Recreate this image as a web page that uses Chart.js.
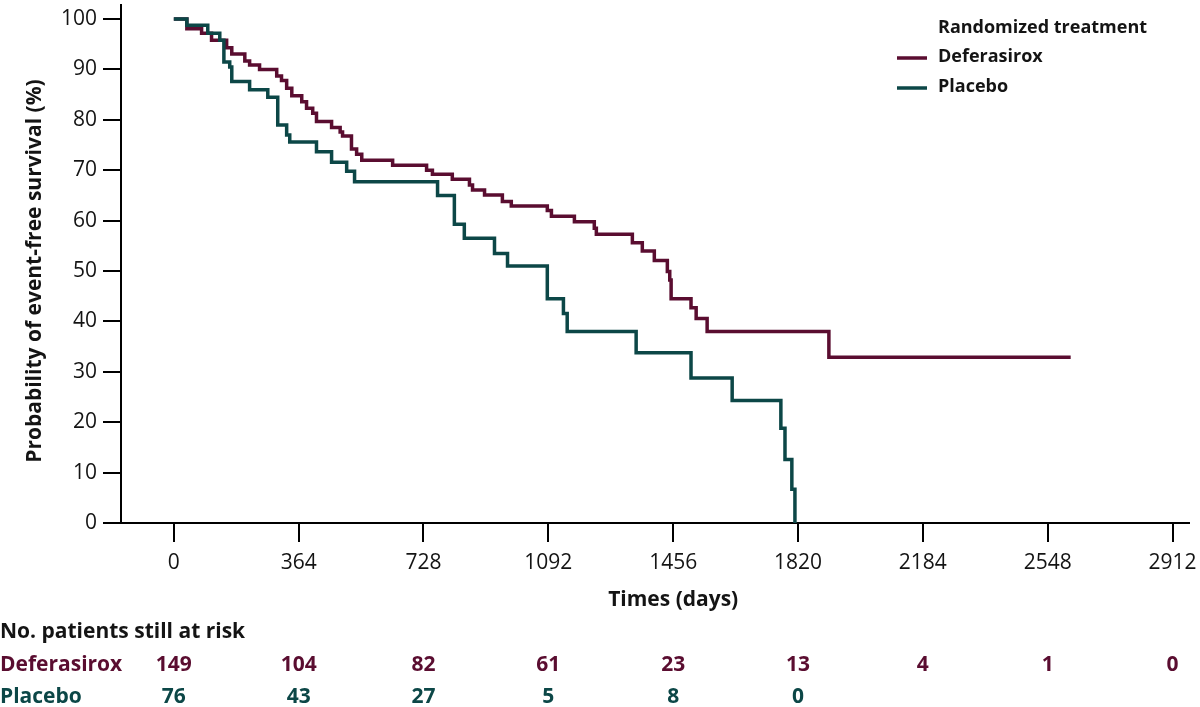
<!DOCTYPE html>
<html>
<head>
<meta charset="utf-8">
<script src="https://cdn.jsdelivr.net/npm/chart.js@4.4.1/dist/chart.umd.min.js"></script>
<style>
  html, body { margin: 0; padding: 0; background: #fff; }
  #wrap { width: 1200px; height: 707px; }
</style>
</head>
<body>
<div id="wrap"><canvas id="km"></canvas></div>
<script>
// Kaplan-Meier steps: day of each drop and survival (%) after it
const defTimes = [0, 38, 81, 110, 154, 169, 207, 221, 250, 300, 314, 329, 344, 373, 387, 405, 416, 460, 485, 492,
  518, 533, 548, 638, 737, 754, 812, 862, 871, 906, 958, 984, 1089, 1101, 1168, 1226, 1232, 1337, 1366, 1401,
  1439, 1446, 1450, 1508, 1523, 1555, 1910, 2615];
const defSurv = [100, 98.1, 97.2, 95.8, 94.3, 93.1, 91.7, 90.9, 90.0, 88.7, 87.8, 86.3, 84.8, 83.6, 82.3, 81.3, 79.7, 78.5, 77.6, 76.8,
  74.2, 73.2, 72.0, 71.0, 70.0, 69.2, 68.2, 67.1, 66.1, 65.1, 63.8, 62.9, 62.0, 60.9, 59.8, 58.5, 57.3, 55.6, 54.0, 52.1,
  49.9, 48.2, 44.5, 42.7, 40.6, 38.0, 32.9, 32.9];

const plaTimes = [0, 38, 99, 134, 146, 163, 169, 221, 274, 303, 329, 338, 416, 460, 504, 527, 769, 818, 847, 935,
  973, 1089, 1136, 1147, 1348, 1508, 1628, 1770, 1782, 1802, 1811];
const plaSurv = [100, 98.8, 97.2, 95.8, 91.5, 90.5, 87.6, 86.0, 84.5, 79.0, 77.0, 75.6, 73.7, 71.6, 69.8, 67.7, 65.0, 59.3, 56.5, 53.5,
  51.0, 44.5, 41.6, 38.0, 33.8, 28.8, 24.3, 18.8, 12.6, 6.7, 0];

// axis ticks
const xTicks = [0, 364, 728, 1092, 1456, 1820, 2184, 2548, 2912];
const yTicks = [0, 10, 20, 30, 40, 50, 60, 70, 80, 90, 100];

// patients at risk, at the x tick days
const riskDeferasirox = [149, 104, 82, 61, 23, 13, 4, 1, 0];
const riskPlacebo = [76, 43, 27, 5, 8, 0];

const maroon = '#5a0d30';
const teal = '#0c4747';
const ink = '#141414';
const fam = '"Open Sans", "Noto Sans", sans-serif';

const toPoints = (ts, ss) => ts.map((t, i) => ({ x: t, y: ss[i] }));

// titles, legend and risk table
const kmText = {
  id: 'kmText',
  afterDraw(chart) {
    const { ctx } = chart;
    const x = chart.scales.x;
    const y = chart.scales.y;

    ctx.save();
    ctx.fillStyle = ink;
    ctx.font = 'bold 21px ' + fam;
    ctx.textAlign = 'center';
    ctx.textBaseline = 'middle';
    ctx.translate(35, y.getPixelForValue(50));
    ctx.rotate(-Math.PI / 2);
    ctx.fillText('Probability of event-free survival (%)', 0, 0);
    ctx.restore();

    ctx.save();
    ctx.textBaseline = 'middle';
    ctx.fillStyle = ink;
    ctx.font = 'bold 21px ' + fam;
    ctx.textAlign = 'center';
    const mid = (x.getPixelForValue(xTicks[0]) + x.getPixelForValue(xTicks[xTicks.length - 1])) / 2;
    ctx.fillText('Times (days)', mid, 600);

    // legend
    ctx.textAlign = 'left';
    ctx.font = 'bold 18px ' + fam;
    ctx.fillText('Randomized treatment', 938, 28);
    chart.data.datasets.forEach((ds, i) => {
      const ly = 58 + i * 30;
      ctx.strokeStyle = ds.borderColor;
      ctx.lineWidth = 3.5;
      ctx.beginPath();
      ctx.moveTo(897, ly);
      ctx.lineTo(927, ly);
      ctx.stroke();
      ctx.fillStyle = ink;
      ctx.fillText(ds.label, 938, ly - 1);
    });

    // risk table
    ctx.font = 'bold 21px ' + fam;
    ctx.fillStyle = ink;
    ctx.fillText('No. patients still at risk', 0, 632);
    const rows = [['Deferasirox', riskDeferasirox, maroon, 665], ['Placebo', riskPlacebo, teal, 697]];
    rows.forEach(([name, vals, col, ry]) => {
      ctx.fillStyle = col;
      ctx.textAlign = 'left';
      ctx.fillText(name, 0, ry);
      ctx.textAlign = 'center';
      vals.forEach((v, i) => ctx.fillText(String(v), x.getPixelForValue(xTicks[i]), ry));
    });
    ctx.restore();
  }
};

new Chart(document.getElementById('km'), {
  type: 'line',
  data: {
    datasets: [
      {
        label: 'Deferasirox',
        data: toPoints(defTimes, defSurv),
        borderColor: maroon,
        borderWidth: 3.5,
        stepped: true,
        pointRadius: 0,
        fill: false,
        order: 1
      },
      {
        label: 'Placebo',
        data: toPoints(plaTimes, plaSurv),
        borderColor: teal,
        borderWidth: 3.5,
        stepped: true,
        pointRadius: 0,
        fill: false,
        order: 0
      }
    ]
  },
  options: {
    responsive: true,
    maintainAspectRatio: false,
    animation: false,
    layout: { padding: { top: 5, right: 11, left: 0, bottom: 0 } },
    plugins: { legend: { display: false }, tooltip: { enabled: false } },
    scales: {
      x: {
        type: 'linear',
        min: -154,
        max: 2960,
        afterBuildTicks: s => { s.ticks = xTicks.map(v => ({ value: v })); },
        afterFit: s => { s.height = 184; s.paddingLeft = 0; s.paddingRight = 0; },
        ticks: { color: ink, font: { family: fam, size: 21 }, padding: 8, maxRotation: 0, autoSkip: false,
          callback: v => String(v) },
        grid: { drawOnChartArea: false, drawTicks: true, tickLength: 19, color: '#000', lineWidth: 2 },
        border: { color: '#000', width: 2 }
      },
      y: {
        type: 'linear',
        min: 0,
        max: 102.8,
        afterBuildTicks: s => { s.ticks = yTicks.map(v => ({ value: v })); },
        afterFit: s => { s.width = 121; s.paddingTop = 0; s.paddingBottom = 0; },
        ticks: { color: ink, font: { family: fam, size: 21 }, padding: 6, autoSkip: false,
          callback: v => String(v) },
        grid: { drawOnChartArea: false, drawTicks: true, tickLength: 18, color: '#000', lineWidth: 2 },
        border: { color: '#000', width: 2 }
      }
    }
  },
  plugins: [kmText]
});
</script>
</body>
</html>
